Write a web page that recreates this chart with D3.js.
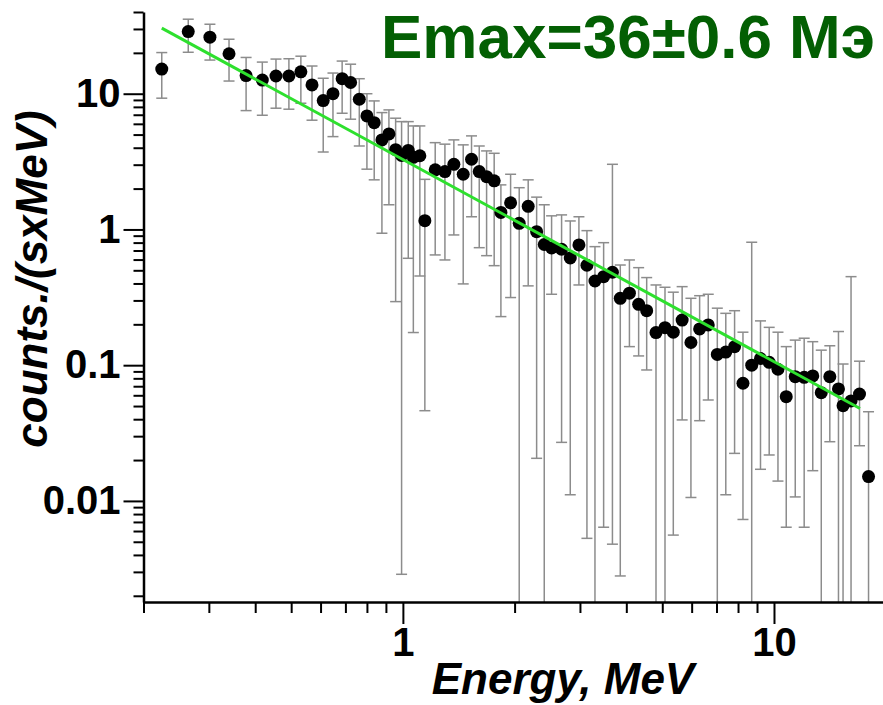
<!DOCTYPE html>
<meta charset="utf-8">
<style>
body { margin: 0; background: #fff; }
svg text { font-family: Arial, "Liberation Sans", Helvetica, sans-serif; font-weight: bold; }
.axis path, .axis line { stroke: #000; }
</style>
<body>
<svg id="chart" width="883" height="705"></svg>
<script src="https://cdn.jsdelivr.net/npm/d3@7/dist/d3.min.js"></script>
<script>
// spectrum points
const energy = [0.224,0.264,0.302,0.340,0.378,0.418,0.455,0.493,0.531,0.569,
  0.610,0.648,0.686,0.723,0.763,0.800,0.837,0.878,0.917,0.956,
  0.992,1.034,1.067,1.111,1.146,1.222,1.298,1.372,1.454,1.531,
  1.606,1.681,1.762,1.837,1.951,2.058,2.176,2.293,2.404,2.516,
  2.677,2.825,2.981,3.133,3.293,3.475,3.670,3.853,4.078,4.318,
  4.539,4.809,5.085,5.354,5.656,5.973,6.304,6.650,7.035,7.415,
  7.831,8.249,8.709,9.197,9.707,10.25,10.79,11.41,12.06,12.72,
  13.41,14.14,14.92,15.35,16.13,17.0,17.98];
const counts = [15.2,28.7,26.1,19.7,13.6,12.6,13.5,13.5,14.5,11.6,
  8.9,10.0,12.9,12.1,9.1,6.86,6.12,4.57,5.06,3.87,
  3.51,3.82,3.40,3.49,1.16,2.75,2.67,3.02,2.55,3.29,
  2.67,2.45,2.28,1.335,1.57,1.11,1.48,0.963,0.775,0.731,
  0.715,0.617,0.769,0.545,0.417,0.449,0.484,0.311,0.339,0.281,
  0.252,0.174,0.189,0.175,0.215,0.147,0.185,0.198,0.120,0.125,
  0.137,0.0736,0.100,0.112,0.105,0.0933,0.0586,0.0823,0.0814,0.0833,
  0.0627,0.0823,0.0668,0.0503,0.0545,0.0613,0.0151];
// upper / lower ends of the error bars (null = runs off the bottom)
const errHi = [20.1,35.4,32.5,25.2,18.5,17.1,18.0,18.1,18.9,16.0,
  13.0,14.2,17.4,16.5,12.9,10.0,8.85,7.26,7.6,6.6,
  6.23,6.23,5.79,5.79,2.34,4.36,4.25,4.57,4.20,4.89,
  4.12,3.79,3.64,2.13,2.55,2.03,2.32,1.73,1.52,1.26,
  1.28,1.155,1.24,0.98,0.747,0.799,3.02,0.547,0.596,0.523,
  0.442,0.39,0.375,0.345,0.379,0.311,0.325,0.333,0.263,0.241,
  0.252,0.175,0.805,0.212,0.190,0.175,0.137,0.153,0.158,0.149,
  0.129,0.139,0.177,0.102,0.449,0.107,0.0454];
const errLo = [9.27,20.2,17.7,12.4,7.51,6.94,7.82,7.69,8.51,6.38,
  3.72,4.83,7.18,6.49,4.12,2.78,2.32,0.938,1.52,0.294,
  0.00288,0.613,0.174,0.454,0.0462,0.649,0.596,0.911,0.397,1.24,
  0.734,0.641,0.541,0.228,0.315,null,0.384,0.0206,null,0.333,
  0.027,0.0111,0.39,0.0053,null,0.0064,0.0048,0.0028,0.137,0.117,
  0.0922,null,null,0.0056,0.0395,0.0106,0.039,0.0554,null,0.0111,
  0.0224,0.0073,null,0.0171,0.0218,0.014,0.0064,0.0107,0.0064,0.0167,
  null,0.0273,null,null,null,0.0255,null];

// fitted power-law line (ends)
const fitE = [0.224, 17.05];
const fitV = [30.4, 0.048];

const xMajor = [1, 10];
const xMinor = [0.2,0.3,0.4,0.5,0.6,0.7,0.8,0.9,2,3,4,5,6,7,8,9,20];
const yMajor = [0.01, 0.1, 1, 10];
const yMinor = [0.002,0.003,0.004,0.005,0.006,0.007,0.008,0.009,
  0.02,0.03,0.04,0.05,0.06,0.07,0.08,0.09,
  0.2,0.3,0.4,0.5,0.6,0.7,0.8,0.9,
  2,3,4,5,6,7,8,9,20,30,40];

const title = "Emax=36\u00b10.6 \u041c\u044d";

let svg = d3.select("#chart");

const x0 = 143.5, x1 = 885.7, yTop = 12, yBot = 602;

let x = d3.scaleLog().domain([0.2, 20]).range([x0, x1]);
let y = d3.scaleLog().domain([0.0018, 40]).range([yBot, yTop]);

let points = energy.map((e, i) => ({ e: e, v: counts[i], hi: errHi[i], lo: errLo[i] }));

// error bars
let eb = svg.append("g").attr("stroke", "#8c8c8c").attr("stroke-width", 1.5).attr("fill", "none");
points.forEach(d => {
  let px = x(d.e);
  let yHi = y(d.hi);
  let yLo = d.lo == null ? yBot : y(d.lo);
  eb.append("line").attr("x1", px).attr("x2", px).attr("y1", yHi).attr("y2", yLo);
  eb.append("line").attr("x1", px - 5.5).attr("x2", px + 5.5).attr("y1", yHi).attr("y2", yHi);
  if (d.lo != null)
    eb.append("line").attr("x1", px - 5.5).attr("x2", px + 5.5).attr("y1", yLo).attr("y2", yLo);
});

// markers
svg.append("g").selectAll("circle")
  .data(points)
  .enter().append("circle")
    .attr("cx", d => x(d.e))
    .attr("cy", d => y(d.v))
    .attr("r", 6.5)
    .attr("fill", "#000");

// fit line
svg.append("path")
  .datum(fitE.map((e, i) => [e, fitV[i]]))
  .attr("fill", "none")
  .attr("stroke", "#2ee02e")
  .attr("stroke-width", 3)
  .attr("d", d3.line().x(d => x(d[0])).y(d => y(d[1])));

// y axis: minor then major ticks
svg.append("g")
  .attr("class", "axis")
  .attr("transform", "translate(" + x0 + ",0)")
  .call(d3.axisLeft(y).tickValues(yMinor).tickSize(10).tickSizeOuter(0).tickFormat(""))
  .call(g => g.selectAll("line").attr("stroke-width", 2))
  .call(g => g.select(".domain").remove());
svg.append("g")
  .attr("class", "axis")
  .attr("transform", "translate(" + x0 + ",0)")
  .call(d3.axisLeft(y).tickValues(yMajor).tickSize(20).tickSizeOuter(0).tickPadding(3)
    .tickFormat(d => d >= 1 ? d3.format("d")(d) : String(d)))
  .call(g => g.selectAll("line").attr("stroke-width", 2))
  .call(g => g.select(".domain").attr("stroke-width", 2.5))
  .call(g => g.selectAll("text").attr("font-size", 40).attr("font-family", "Arial, 'Liberation Sans', sans-serif").attr("font-weight", "bold"));

// x axis
svg.append("g")
  .attr("class", "axis")
  .attr("transform", "translate(0," + yBot + ")")
  .call(d3.axisBottom(x).tickValues(xMinor).tickSize(11).tickSizeOuter(0).tickFormat(""))
  .call(g => g.selectAll("line").attr("stroke-width", 2))
  .call(g => g.select(".domain").remove());
svg.append("g")
  .attr("class", "axis")
  .attr("transform", "translate(0," + yBot + ")")
  .call(d3.axisBottom(x).tickValues(xMajor).tickSize(22).tickSizeOuter(0).tickPadding(4).tickFormat(d3.format("d")))
  .call(g => g.selectAll("line").attr("stroke-width", 2))
  .call(g => g.select(".domain").attr("stroke-width", 2.5))
  .call(g => g.selectAll("text").attr("font-size", 40).attr("font-family", "Arial, 'Liberation Sans', sans-serif").attr("font-weight", "bold"));

// axis titles
svg.append("text")
  .attr("x", 563)
  .attr("y", 694)
  .attr("text-anchor", "middle")
  .attr("font-size", 44)
  .attr("font-style", "italic")
  .text("Energy, MeV");

svg.append("text")
  .attr("text-anchor", "middle")
  .attr("font-size", 44)
  .attr("font-style", "italic")
  .attr("transform", "translate(47,279)rotate(-90)")
  .text("counts./(sxMeV)");

// title
svg.append("text")
  .attr("x", 381)
  .attr("y", 58)
  .attr("font-size", 62)
  .attr("textLength", 494)
  .attr("lengthAdjust", "spacingAndGlyphs")
  .attr("fill", "#035f03")
  .text(title);
</script>
</body>
